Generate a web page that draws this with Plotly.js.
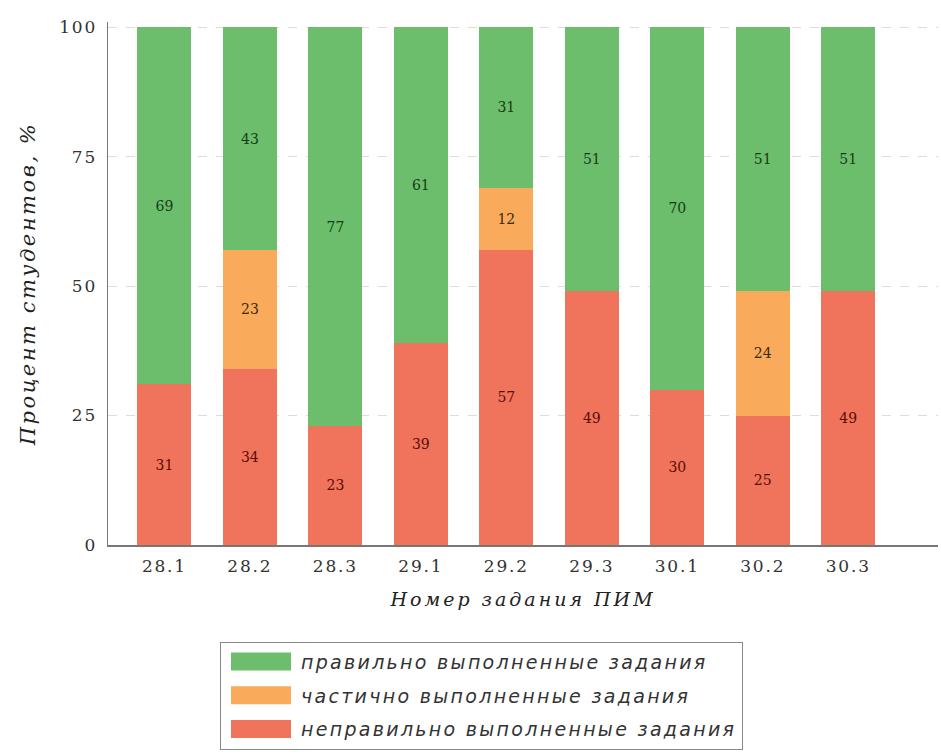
<!DOCTYPE html>
<html><head><meta charset="utf-8">
<script src="https://cdn.plot.ly/plotly-3.0.1.min.js"></script>
<style>
html,body{margin:0;padding:0;background:#fff}
text.xtitle{letter-spacing:3px}
text.ytitle{letter-spacing:2.5px}
text.legendtext{letter-spacing:2.3px}
.xtick text,.ytick text{letter-spacing:1.8px}
</style>
</head><body>
<div id="chart" style="width:941px;height:755px"></div>
<script>
const categories = ['28.1','28.2','28.3','29.1','29.2','29.3','30.1','30.2','30.3'];
const wrongVals   = [31, 34, 23, 39, 57, 49, 30, 25, 49];
const partialVals = [null, 23, null, null, 12, null, null, 24, null];
const correctVals = [69, 43, 77, 61, 31, 51, 70, 51, 51];
const yTicks = [0, 25, 50, 75, 100];
const names = ['неправильно выполненные задания','частично выполненные задания','правильно выполненные задания'];

const txt = a => a.map(v => v == null ? '' : String(v));
const serif = 'DejaVu Serif, Liberation Serif, serif';
function tr(vals, name, color, tcolor, grp, rank){
  return {type:'bar', x:categories, y:vals, name:'<i>' + name + '</i>', text:txt(vals),
    legendgroup:grp, legendrank:rank,
    textposition:'inside', insidetextanchor:'middle', textangle:0,
    insidetextfont:{family:serif, size:14, color:tcolor},
    marker:{color:color, line:{width:0}}, width:0.63, hoverinfo:'skip'};
}
const data = [
  tr(wrongVals, names[0], '#f0735c', '#5a0d05', 'g1', 3),
  tr(partialVals, names[1], '#f9aa5a', '#3a2a10', 'g2', 2),
  tr(correctVals, names[2], '#6cbd6c', '#143d14', 'g3', 1)
];
const layout = {
  width:941, height:755, paper_bgcolor:'#fff', plot_bgcolor:'#fff',
  margin:{l:108, r:3, t:22, b:210},
  barmode:'stack',
  font:{family:serif, color:'#333'},
  xaxis:{type:'category', range:[-0.66, 9.05], showline:true, linecolor:'#777', linewidth:1.5,
    showgrid:false, ticks:'', ticklabelstandoff:5, tickfont:{family:serif, size:17, color:'#333'},
    title:{text:'<i>Номер задания ПИМ</i>', font:{family:serif, size:19, color:'#222'}, standoff:18}},
  yaxis:{range:[0,101], tickvals:yTicks, showline:true, linecolor:'#777', linewidth:1.5,
    showgrid:true, gridcolor:'#e4d8d8', griddash:'dash', gridwidth:1, zeroline:false,
    ticks:'', ticklen:0, ticklabelstandoff:6, tickfont:{family:serif, size:17, color:'#333'},
    title:{text:'<i>Процент студентов, %</i>', font:{family:serif, size:21, color:'#222'}, standoff:18}},
  legend:{x:0.45, xanchor:'center', y:-0.185, yanchor:'top', traceorder:'grouped',
    bordercolor:'#888', borderwidth:1, bgcolor:'#fff',
    font:{family:'DejaVu Sans, sans-serif', size:19, color:'#333'}, tracegroupgap:6, itemwidth:70},
  showlegend:true
};
Plotly.newPlot('chart', data, layout, {displayModeBar:false, staticPlot:true}).then(function(){
  document.querySelectorAll('.legendpoints path').forEach(function(p){
    p.setAttribute('d','M-30,-9h60v18h-60z');
  });
});
</script>
</body></html>
